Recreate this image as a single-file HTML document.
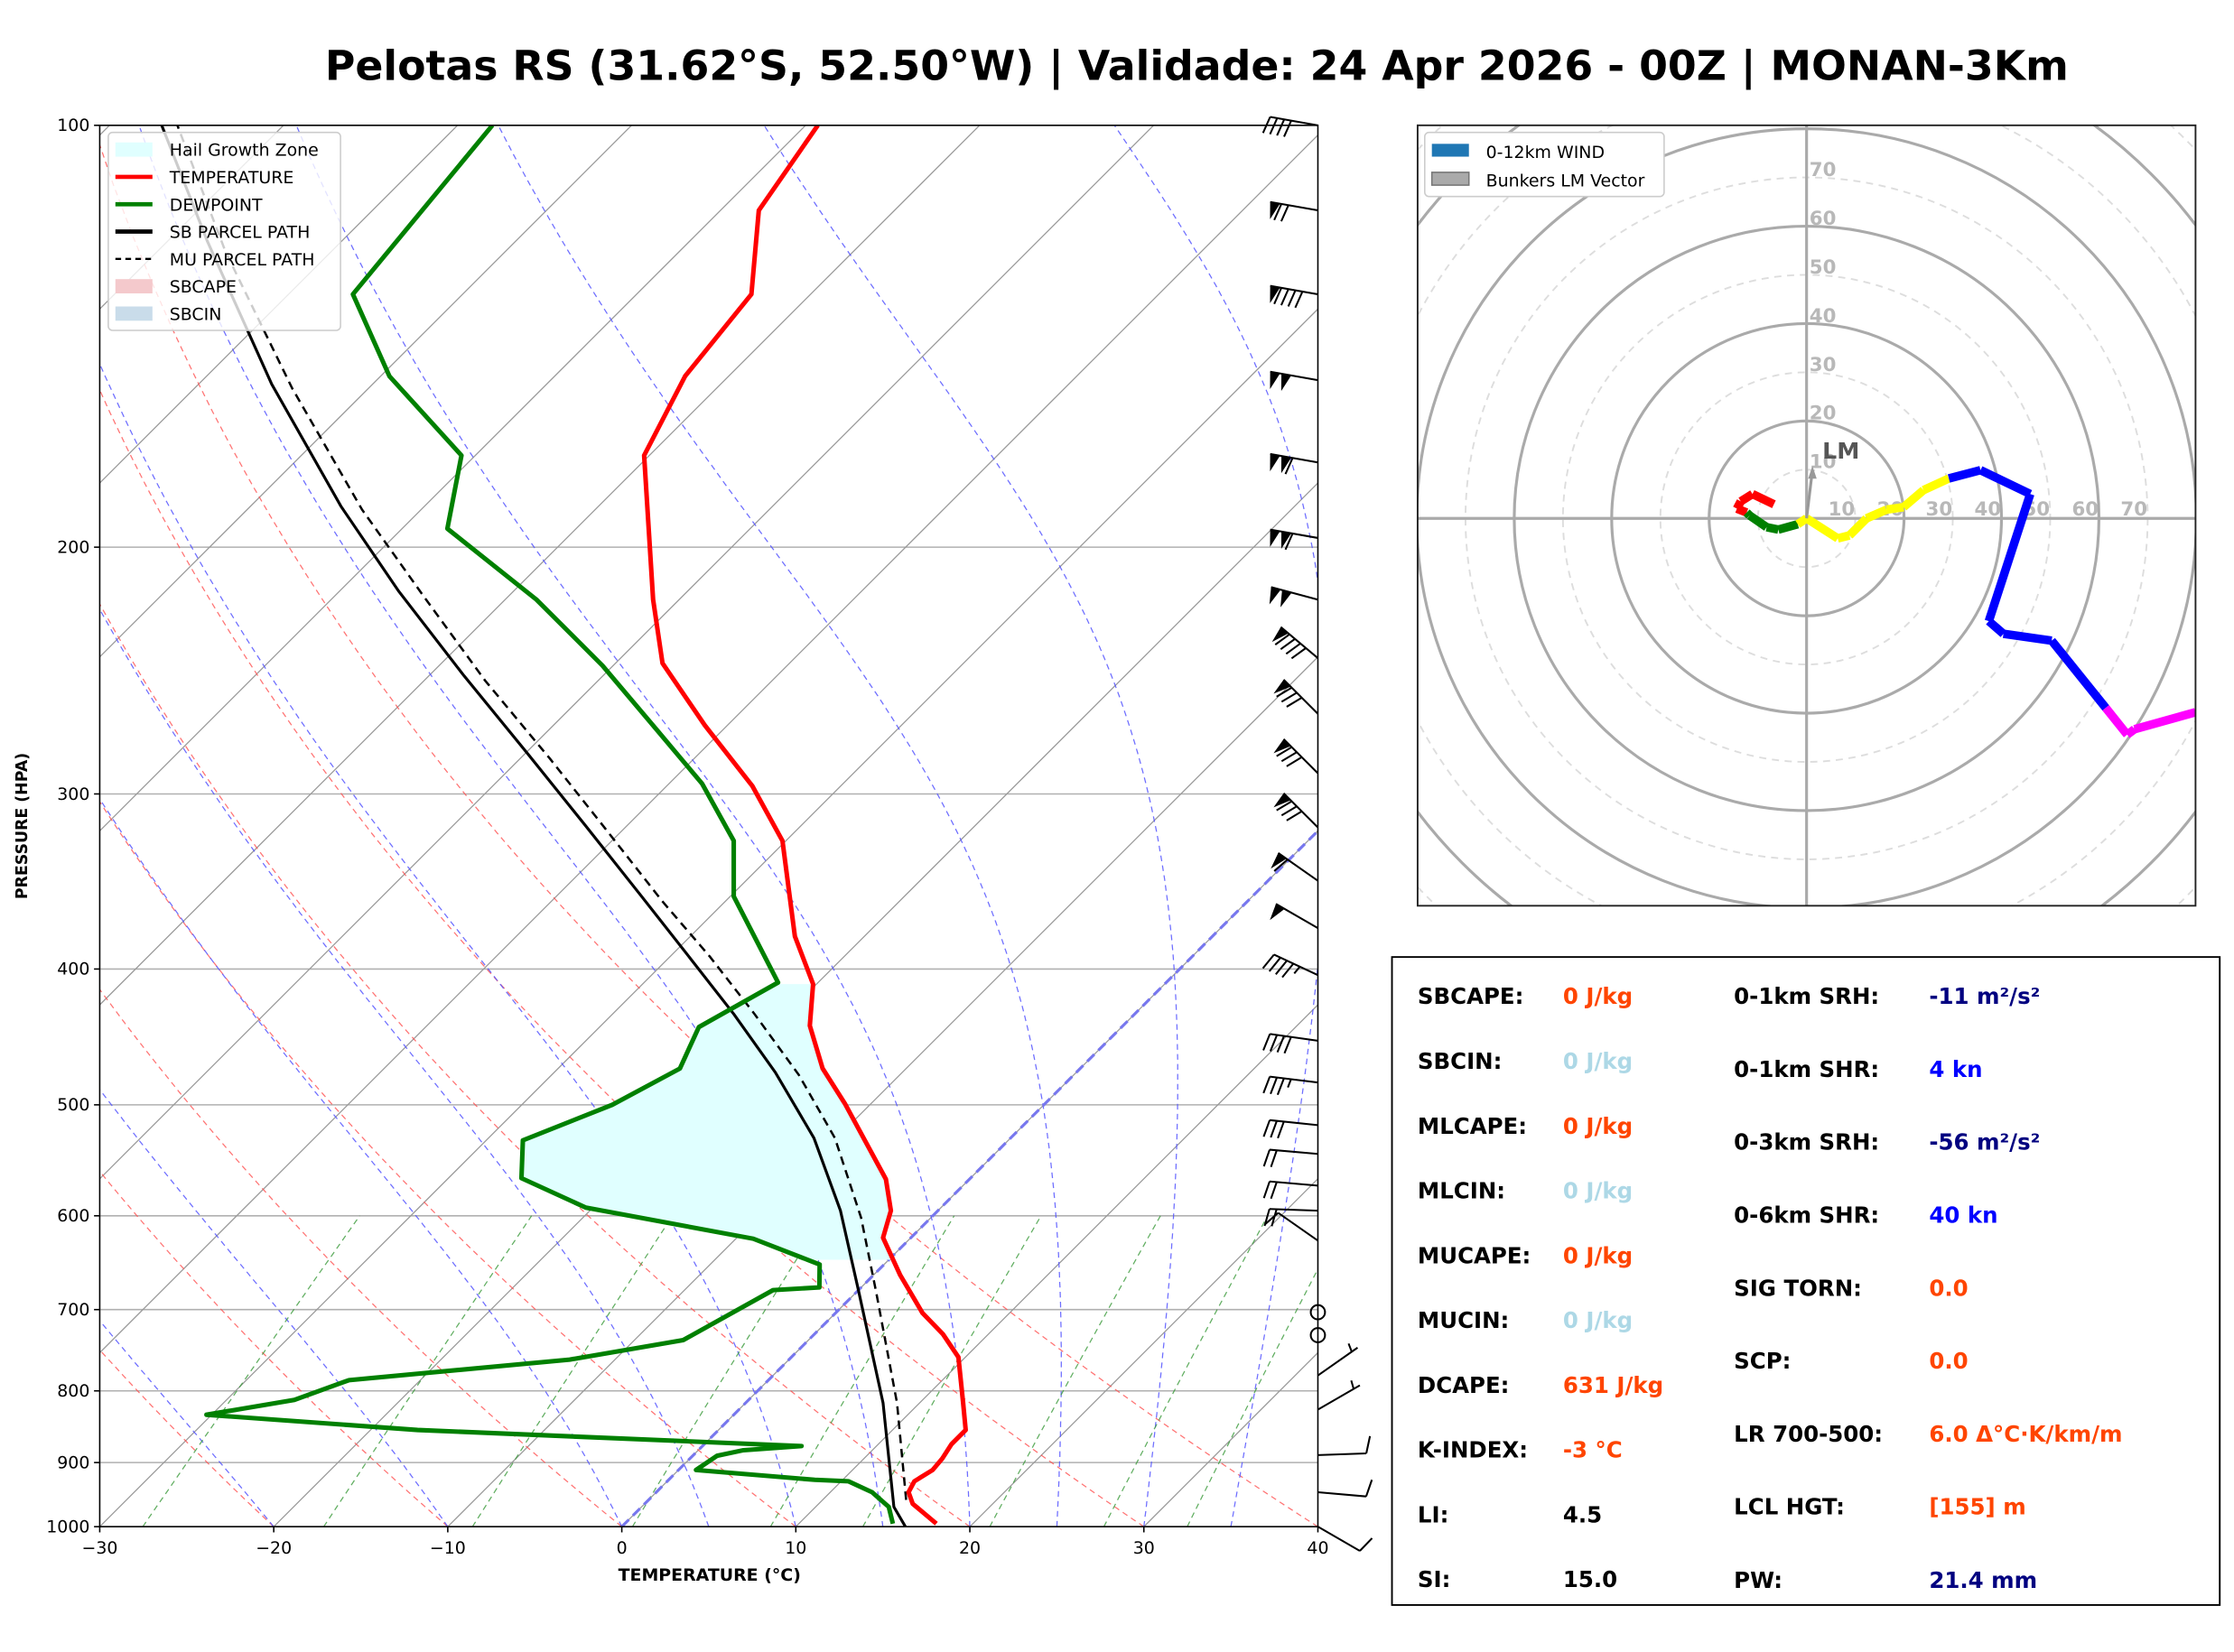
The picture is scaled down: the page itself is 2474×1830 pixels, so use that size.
<!DOCTYPE html>
<html><head><meta charset="utf-8"><style>
html,body{margin:0;padding:0;background:#fff}
svg{display:block}
text{font-family:"DejaVu Sans","Liberation Sans",sans-serif}
</style></head><body>
<svg id="root" xmlns="http://www.w3.org/2000/svg" width="2474" height="1830" viewBox="0 0 1568 1160" preserveAspectRatio="none">
<rect x="0" y="0" width="1568" height="1160" fill="#fff"/>
<text x="840" y="56" text-anchor="middle" font-size="29" font-weight="bold">Pelotas RS (31.62°S, 52.50°W) | Validade: 24 Apr 2026 - 00Z | MONAN-3Km</text>
<defs>
<clipPath id="skclip"><rect x="70" y="88" width="855" height="984"/></clipPath>
<clipPath id="hclip"><rect x="995" y="88" width="546" height="548"/></clipPath>
</defs>
<g id="skew"></g>
<g id="hodo"></g>
<g id="stats"></g>
</svg>
<script>
// ---------- data ----------
const tempP=[995,963,945,928,911,894,873,853,816,757,729,704,661,622,595,565,499,471,439,410,379,324,296,268,242,218,172,151,132,115,100];
const tempT=[17.9,15.4,14.5,14.2,14.6,14.5,14.2,14.2,12.5,9.6,7.4,5.0,1.5,-1.6,-2.7,-4.8,-11.5,-14.8,-18.0,-20.2,-24.0,-30.2,-35.1,-41.3,-47.3,-51.5,-60.3,-62.5,-63.4,-67.8,-69.3];
const dewP=[995,968,945,928,926,911,890,882,876,853,832,812,786,760,736,678,675,650,623,592,564,530,500,471,440,409,355,324,295,270,243,218,194,172,151,132,100];
const dewT=[15.4,14.2,12.4,10.4,8.4,1.0,1.4,2.6,5.7,-17.3,-30.3,-26.1,-24.1,-12.6,-7.2,-4.9,-2.4,-3.7,-9.0,-20.4,-25.8,-27.9,-24.8,-23.0,-24.3,-22.3,-29.8,-33.0,-38.1,-43.8,-50.6,-58.2,-67.4,-70.8,-79.5,-86.3,-88.0];
const sbP=[1000,968,816,678,595,528,474,431,392,355,316,281,247,215,187,153,121,100];
const sbT=[16.3,14.5,7.9,0.0,-5.6,-11.3,-17.3,-23.0,-28.9,-35.1,-42.4,-49.8,-58.0,-66.6,-74.8,-85.8,-97.7,-107.0];
const muP=[957,816,678,602,528,476,431,392,358,318,283,249,216,188,154,123,100];
const muT=[14.8,8.7,1.0,-4.0,-10.1,-15.8,-21.8,-27.7,-33.6,-41.0,-48.3,-56.5,-65.1,-73.4,-84.4,-96.1,-106.1];
const windP=[100,115,132,152,174,197,218,240,263,290,317,346,374,404,450,482,517,542,571,595,625,703,730,780,825,889,945,1000];
const windDir=[280,280,280,280,280,280,285,310,315,315,315,305,300,295,278,277,276,275,275,272,305,0,0,55,60,88,95,120];
const windSpd=[40,70,90,100,110,110,100,90,80,80,80,60,50,45,40,35,30,20,20,20,10,0,0,5,5,10,10,10];
const xTicks=[-30,-20,-10,0,10,20,30,40];
const pTicks=[100,200,300,400,500,600,700,800,900,1000];
const hodoU=[-6.7,-11.1,-13.5,-14.3,-12.3,-11.7,-8.2,-5.8,-1.8,0,6.4,8.8,12.3,16.4,19.9,24.0,29.2,35.7,45.9,37.4,40.4,50.3,61.4,65.8,67.3,79.8];
const hodoV=[2.9,5.0,3.5,2.0,1.2,0.6,-1.8,-2.3,-1.2,0,-4.1,-3.5,0,1.8,2.3,5.8,8.2,9.9,5.0,-21.1,-23.7,-25.1,-38.9,-44.4,-43.3,-39.8];
const hodoColor=['red','red','red','red','red','green','green','green','green','yellow','yellow','yellow','yellow','yellow','yellow','yellow','yellow','blue','blue','blue','blue','blue','blue','magenta','magenta','magenta'];
const lmU=[1.2], lmV=[9.9];
const ringVals=[10,20,30,40,50,60,70];

const NS='http://www.w3.org/2000/svg';
function mk(tag,attrs,parent){const e=document.createElementNS(NS,tag);for(const k in attrs)e.setAttribute(k,attrs[k]);parent.appendChild(e);return e;}
// ---------- skew-T axes ----------
const X0=70,X1=925,Y0=88,Y1=1072,PXC=(X1-X0)/70;
function yAt(p){return Y0+Math.log10(p/100)*(Y1-Y0);}
function xAt(T,p){return X0+(T+30)*PXC+(Y1-yAt(p));}
const sk=document.getElementById('skew');
const clipG=mk('g',{'clip-path':'url(#skclip)'},sk);


function pathFrom(Ts,Ps){return Ts.map((t,i)=>(i?'L':'M')+xAt(t,Ps[i]).toFixed(1)+','+yAt(Ps[i]).toFixed(1)).join(' ');}
pTicks.forEach(p=>{const l=mk('line',{x1:X0,x2:X1,y1:yAt(p),y2:yAt(p),stroke:'#b0b0b0','stroke-width':1},clipG);

});
for(let t=-130;t<=40;t+=10){const l=mk('line',{x1:xAt(t,1000),y1:yAt(1000),x2:xAt(t,100),y2:yAt(100),stroke:'#999','stroke-width':0.8},clipG);

}
const pLev=[];for(let p=1000;p>=100;p-=10)pLev.push(p);
for(let t0=-30;t0<=40;t0+=10){const th=t0+273.15;const Ts=pLev.map(p=>th*Math.pow(p/1000,0.2857)-273.15);
const l=mk('path',{d:pathFrom(Ts,pLev),fill:'none',stroke:'#ff5050','stroke-width':0.8,'stroke-dasharray':'4,3',opacity:0.8},clipG);

}
function es(T){return 6.112*Math.exp(17.67*T/(T+243.5));}
function dTdp(T,p){const Tk=T+273.15;const rs=0.622*es(T)/(p-es(T));const Lv=2.501e6,Rd=287.04,cp=1005.7;
return (Rd*Tk+Lv*rs)/(p*(cp+Lv*Lv*rs*0.622/(Rd*Tk*Tk)));}
[-20,-10,0,5,10,15,20,25,30,35].forEach(t0=>{let T=t0;const Ts=[T],Ps=[1000];for(let p=1000;p>100;p-=5){const k1=dTdp(T,p);const k2=dTdp(T-2.5*k1,p-2.5);T=T-5*k2;Ts.push(T);Ps.push(p-5);}
const l=mk('path',{d:pathFrom(Ts,Ps),fill:'none',stroke:'#5555ff','stroke-width':0.8,'stroke-dasharray':'4,3',opacity:0.85},clipG);

});
[0.0004,0.001,0.002,0.004,0.007,0.01,0.016,0.024,0.032].forEach(w=>{const Ps=[],Ts=[];for(let p=1000;p>=600;p-=20){const e=w*p/(0.622+w);const a=Math.log(e/6.112);Ps.push(p);Ts.push(243.5*a/(17.67-a));}
const l=mk('path',{d:pathFrom(Ts,Ps),fill:'none',stroke:'#3a9a3a','stroke-width':0.8,'stroke-dasharray':'4,3',opacity:0.8},clipG);

});
const zi=mk('line',{x1:xAt(0,1000),y1:yAt(1000),x2:xAt(0,100),y2:yAt(100),stroke:'#7777ee','stroke-width':2,'stroke-dasharray':'7,4'},clipG);


function interp(Ps,Ts,p){for(let i=0;i<Ps.length-1;i++){if((Ps[i]-p)*(Ps[i+1]-p)<=0){const f=(Math.log(p)-Math.log(Ps[i]))/(Math.log(Ps[i+1])-Math.log(Ps[i]));return Ts[i]+f*(Ts[i+1]-Ts[i]);}}return Ts[Ts.length-1];}
{const pts=[];for(let p=645;p>=410;p-=5)pts.push([xAt(interp(tempP,tempT,p),p),yAt(p)]);for(let p=410;p<=645;p+=5)pts.push([xAt(interp(dewP,dewT,p),p),yAt(p)]);
const hz=mk('polygon',{points:pts.map(q=>q.join(',')).join(' '),fill:'#e0ffff',stroke:'none'},clipG);

}
const sbL=mk('path',{d:pathFrom(sbT,sbP),fill:'none',stroke:'#000','stroke-width':2},clipG);


const muL=mk('path',{d:pathFrom(muT,muP),fill:'none',stroke:'#000','stroke-width':1.6,'stroke-dasharray':'6,4'},clipG);


const dL=mk('path',{d:pathFrom(dewT,dewP),fill:'none',stroke:'#008000','stroke-width':3.2,'stroke-linejoin':'round'},clipG);


const tL=mk('path',{d:pathFrom(tempT,tempP),fill:'none',stroke:'#ff0000','stroke-width':3.2,'stroke-linejoin':'round'},clipG);


const fr=mk('rect',{x:X0,y:Y0,width:X1-X0,height:Y1-Y0,fill:'none',stroke:'#000','stroke-width':1},sk);


xTicks.forEach(t=>{const x=X0+(t+30)*PXC;mk('line',{x1:x,x2:x,y1:Y1,y2:Y1+4,stroke:'#000'},sk);
const tx=mk('text',{x:x,y:Y1+19,'text-anchor':'middle','font-size':12},sk);tx.textContent=(t<0?'\u2212':'')+Math.abs(t);

});
pTicks.forEach(p=>{mk('line',{x1:X0-4,x2:X0,y1:yAt(p),y2:yAt(p),stroke:'#000'},sk);
const tx=mk('text',{x:X0-7,y:yAt(p)+4,'text-anchor':'end','font-size':12},sk);tx.textContent=p;

});
{const t=mk('text',{x:498,y:1110,'text-anchor':'middle','font-size':12,'font-weight':'bold'},sk);t.textContent='TEMPERATURE (°C)';


const t2=mk('text',{x:19,y:580,'text-anchor':'middle','font-size':11,'font-weight':'bold',transform:'rotate(-90 19 580)'},sk);t2.textContent='PRESSURE (HPA)';

}
function barb(p,dir,spd){const g=mk('g',{},sk);


const ox=X1,oy=yAt(p);
if(spd<2.5){mk('circle',{cx:ox,cy:oy,r:5,fill:'none',stroke:'#000','stroke-width':1.3},g);return;}
const a=dir*Math.PI/180,dx=Math.sin(a),dy=-Math.cos(a);const L=34;
const tx=ox+dx*L,ty=oy+dy*L;const px=dy,py=-dx;
mk('line',{x1:ox,y1:oy,x2:tx,y2:ty,stroke:'#000','stroke-width':1.3},g);
let s=Math.round(spd/5)*5;let pos=0;const step=5;
while(s>=50){const bx=tx-dx*pos,by=ty-dy*pos;const ex=tx-dx*(pos+7),ey=ty-dy*(pos+7);
mk('polygon',{points:`${bx},${by} ${ex},${ey} ${bx+px*12-dx*2},${by+py*12-dy*2}`,fill:'#000'},g);pos+=8;s-=50;}
while(s>=10){const bx=tx-dx*pos,by=ty-dy*pos;mk('line',{x1:bx,y1:by,x2:bx+px*12+dx*3,y2:by+py*12+dy*3,stroke:'#000','stroke-width':1.3},g);pos+=step;s-=10;}
if(s>=5){if(pos===0)pos=step;const bx=tx-dx*pos,by=ty-dy*pos;mk('line',{x1:bx,y1:by,x2:bx+px*6+dx*1.5,y2:by+py*6+dy*1.5,stroke:'#000','stroke-width':1.3},g);}}
windP.forEach((p,i)=>barb(p,windDir[i],windSpd[i]));
{const lg=mk('g',{},sk);


mk('rect',{x:76,y:93,width:163,height:139,rx:3,fill:'#fff','fill-opacity':0.8,stroke:'#ccc'},lg);
const items=[['rect','#e0ffff','Hail Growth Zone'],['line','#ff0000','TEMPERATURE'],['line','#008000','DEWPOINT'],['line','#000','SB PARCEL PATH'],['dash','#000','MU PARCEL PATH'],['rect','#f4c9cc','SBCAPE'],['rect','#c9dcea','SBCIN']];
items.forEach((it,i)=>{const y=105+i*19.2;
if(it[0]==='rect')mk('rect',{x:81,y:y-5,width:26,height:10,fill:it[1]},lg);
else mk('line',{x1:81,x2:107,y1:y,y2:y,stroke:it[1],'stroke-width':it[0]==='dash'?1.5:3,'stroke-dasharray':it[0]==='dash'?'4,3':'none'},lg);
const t=mk('text',{x:119,y:y+4.5,'font-size':12},lg);t.textContent=it[2];

});}

// ---------- hodograph ----------
const hg=document.getElementById('hodo');
const HCX=1268,HCY=364,KT=3.42;
const hc=mk('g',{'clip-path':'url(#hclip)'},hg);
for(let r=10;r<=110;r+=10){const c=mk('circle',{cx:HCX,cy:HCY,r:r*KT,fill:'none',stroke:r%20===0?'#aaa':'#ddd','stroke-width':r%20===0?2:1.2,'stroke-dasharray':r%20===0?'none':'5,4'},hc);

}
mk('line',{x1:995,x2:1541,y1:HCY,y2:HCY,stroke:'#aaa','stroke-width':2},hc);
mk('line',{x1:HCX,x2:HCX,y1:88,y2:636,stroke:'#aaa','stroke-width':2},hc);
ringVals.forEach(v=>{const t=mk('text',{x:HCX+2,y:HCY-v*KT-1,'font-size':13.5,'font-weight':'bold',fill:'#b8b8b8'},hc);t.textContent=v;


const t2=mk('text',{x:HCX+v*KT-19,y:HCY-2,'font-size':13.5,'font-weight':'bold',fill:'#b8b8b8'},hc);t2.textContent=v;

});
const hx=u=>HCX+u*KT,hy=v=>HCY-v*KT;
for(let i=0;i<hodoU.length-1;i++){const s=mk('line',{x1:hx(hodoU[i]),y1:hy(hodoV[i]),x2:hx(hodoU[i+1]),y2:hy(hodoV[i+1]),stroke:hodoColor[i+1],'stroke-width':6},hc);

}
{const a=mk('line',{x1:HCX,y1:HCY,x2:hx(lmU[0]),y2:hy(lmV[0]),stroke:'#999','stroke-width':2},hc);


const ax=hx(lmU[0]),ay=hy(lmV[0]);mk('polygon',{points:`${ax},${ay-3} ${ax-3},${ay+6} ${ax+3},${ay+6}`,fill:'#999'},hc);
const t=mk('text',{x:ax+7,y:ay-8,'font-size':16,'font-weight':'bold',fill:'#555'},hc);t.textContent='LM';

}
mk('rect',{x:995,y:88,width:546,height:548,fill:'none',stroke:'#222','stroke-width':1.2},hg);
{const lg=mk('g',{},hg);


mk('rect',{x:1000,y:93,width:168,height:45,rx:3,fill:'#fff',stroke:'#ccc'},lg);
mk('rect',{x:1005,y:101,width:26,height:9,fill:'#1f77b4'},lg);
mk('rect',{x:1005,y:121,width:26,height:9,fill:'#aaa',stroke:'#777'},lg);
const t1=mk('text',{x:1043,y:111,'font-size':12},lg);t1.textContent='0-12km WIND';


const t2=mk('text',{x:1043,y:131,'font-size':12},lg);t2.textContent='Bunkers LM Vector';

}

// ---------- stats ----------
const st=document.getElementById('stats');
mk('rect',{x:977,y:672,width:581,height:455,fill:'#fff',stroke:'#000','stroke-width':1.2},st);
const left=[['SBCAPE:','0 J/kg','#ff4500'],['SBCIN:','0 J/kg','#add8e6'],['MLCAPE:','0 J/kg','#ff4500'],['MLCIN:','0 J/kg','#add8e6'],['MUCAPE:','0 J/kg','#ff4500'],['MUCIN:','0 J/kg','#add8e6'],['DCAPE:','631 J/kg','#ff4500'],['K-INDEX:','-3 °C','#ff4500'],['LI:','4.5','#000'],['SI:','15.0','#000']];
const right=[['0-1km SRH:','-11 m²/s²','#000080'],['0-1km SHR:','4 kn','#0000ff'],['0-3km SRH:','-56 m²/s²','#000080'],['0-6km SHR:','40 kn','#0000ff'],['SIG TORN:','0.0','#ff4500'],['SCP:','0.0','#ff4500'],['LR 700-500:','6.0 Δ°C·K/km/m','#ff4500'],['LCL HGT:','[155] m','#ff4500'],['PW:','21.4 mm','#000080']];
left.forEach((r,i)=>{const y=705+i*45.5;
const a=mk('text',{x:995,y:y,'font-size':15.5,'font-weight':'bold'},st);a.textContent=r[0];


const b=mk('text',{x:1097,y:y,'font-size':15.5,'font-weight':'bold',fill:r[2]},st);b.textContent=r[1];

});
right.forEach((r,i)=>{const y=i<8?705+i*51.2:1115;
const a=mk('text',{x:1217,y:y,'font-size':15.5,'font-weight':'bold'},st);a.textContent=r[0];


const b=mk('text',{x:1354,y:y,'font-size':15.5,'font-weight':'bold',fill:r[2]},st);b.textContent=r[1];

});
</script>
</body></html>
